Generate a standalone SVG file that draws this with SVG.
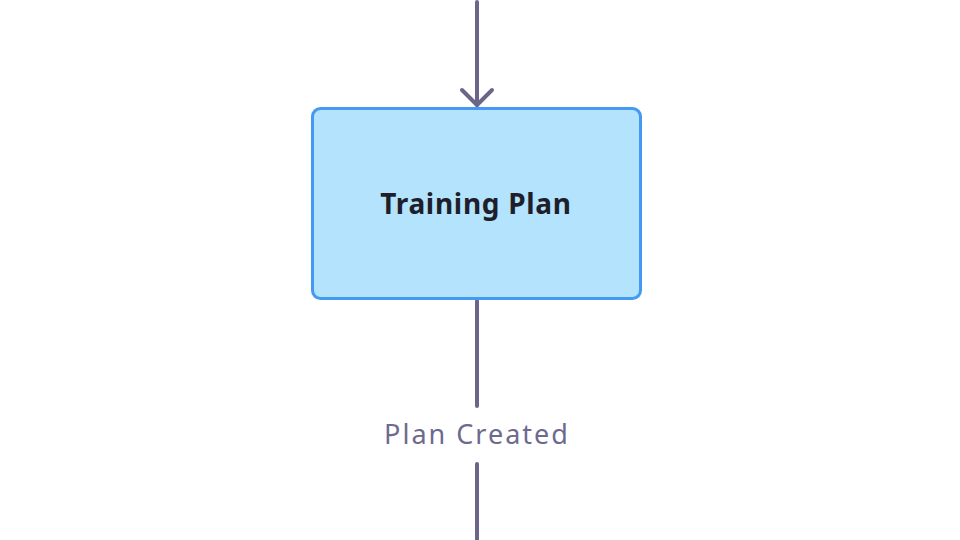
<svg xmlns="http://www.w3.org/2000/svg" width="960" height="540" viewBox="0 0 960 540">
<style>
.edge{stroke:#6b6689;stroke-width:4;fill:none;stroke-linecap:round;stroke-linejoin:round}
.node{fill:#b4e3fd;stroke:#4499f2;stroke-width:3}
.title{font-family:"Noto Sans","Open Sans",sans-serif;font-weight:bold;font-size:28px;letter-spacing:0.7px;fill:#1f1f2b}
.lbl{font-family:"Noto Sans","Open Sans",sans-serif;font-size:27px;letter-spacing:2px;fill:#6e6a8e}
</style>
<rect width="960" height="540" fill="#ffffff"/>
<g id="connectors">
<path class="edge" d="M477,2 V105"/>
<path class="edge" d="M462,90 L477,105 L492,90"/>
<path class="edge" d="M477,301 V406"/>
<path class="edge" d="M477,464 V540"/>
<text class="lbl" x="477" y="444" text-anchor="middle">Plan Created</text>
</g>
<g id="node-training-plan">
<rect class="node" x="312.5" y="108.5" width="328" height="190" rx="8"/>
<text class="title" x="476" y="214" text-anchor="middle">Training Plan</text>
</g>
</svg>
